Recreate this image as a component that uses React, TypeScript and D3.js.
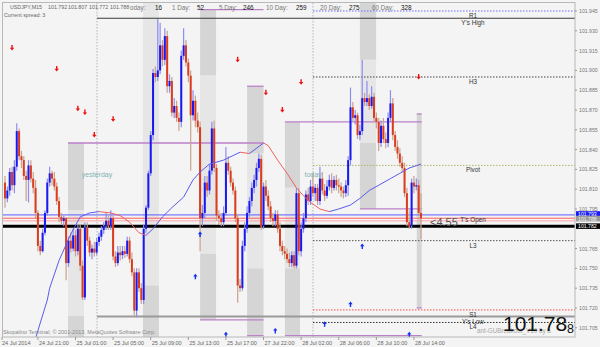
import React from "react";
import * as d3 from "d3";

// ---------- header / axis text ----------
const symbolName = "USDJPY,M15";
const headerOHLC = ["101.792", "101.807", "101.772", "101.788"];
const spreadText = "Current spread: 3";
const statLabels = ["oday:", "1 Day:", "5 Day:", "10 Day:", "20 Day:", "60 Day:"];
const statValues = ["16", "52", "246", "259", "275", "328"];
const timeLabels = [
  "24 Jul 2014", "24 Jul 21:00", "25 Jul 01:00", "25 Jul 05:00", "25 Jul 09:00", "25 Jul 13:00",
  "25 Jul 17:00", "27 Jul 22:00", "28 Jul 02:00", "28 Jul 06:00", "28 Jul 10:00", "28 Jul 14:00",
];
const timeLabelBars = [-1.3, 14, 30, 46, 62, 78, 94, 110, 126, 142, 158, 174];
const priceTicks = [
  101.945, 101.93, 101.915, 101.9, 101.885, 101.87, 101.855, 101.84, 101.825, 101.81,
  101.795, 101.765, 101.75, 101.735, 101.72, 101.705,
];

// ---------- candles (M15) ----------
const opens = [
  101.815,101.803,101.809,101.823,101.813,101.827,101.854,101.835,101.832,101.820,
  101.817,101.828,101.818,101.811,101.792,101.767,101.763,101.777,101.792,101.815,
  101.822,101.818,101.812,101.801,101.789,101.786,101.788,101.754,101.771,101.765,
  101.775,101.763,101.780,101.752,101.728,101.781,101.771,101.762,101.765,101.762,
  101.770,101.774,101.779,101.782,101.786,101.782,101.788,101.759,101.754,101.762,
  101.760,101.763,101.761,101.771,101.757,101.747,101.718,101.747,101.735,101.726,
  101.780,101.796,101.822,101.851,101.898,101.895,101.900,101.919,101.908,101.926,
  101.888,101.892,101.868,101.873,101.864,101.861,101.911,101.919,101.906,101.896,
  101.866,101.877,101.862,101.857,101.788,101.792,101.815,101.809,101.824,101.856,
  101.826,101.790,101.788,101.785,101.792,101.830,101.824,101.815,101.809,101.788,
  101.737,101.735,101.767,101.780,101.792,101.801,101.811,101.817,101.826,101.833,
  101.782,101.812,101.805,101.797,101.788,101.786,101.791,101.780,101.767,101.763,
  101.761,101.757,101.754,101.760,101.752,101.807,101.763,101.780,101.788,101.806,
  101.801,101.812,101.807,101.811,101.801,101.818,101.809,101.805,101.812,101.817,
  101.811,101.817,101.813,101.812,101.809,101.807,101.813,101.832,101.872,101.864,
  101.866,101.851,101.854,101.879,101.876,101.879,101.873,101.880,101.864,101.861,
  101.845,101.858,101.848,101.845,101.864,101.875,101.851,101.842,101.837,101.830,
  101.826,101.807,101.785,101.782,101.815,101.812,101.813,101.792,
];
const highs = [
  101.820,101.812,101.826,101.827,101.832,101.860,101.856,101.839,101.835,101.824,
  101.832,101.832,101.823,101.817,101.794,101.771,101.780,101.794,101.818,101.827,
  101.824,101.823,101.815,101.804,101.792,101.790,101.789,101.774,101.777,101.780,
  101.779,101.783,101.783,101.756,101.785,101.785,101.774,101.768,101.770,101.773,
  101.777,101.782,101.785,101.792,101.791,101.794,101.790,101.763,101.767,101.767,
  101.767,101.767,101.774,101.774,101.762,101.750,101.750,101.750,101.739,101.783,
  101.798,101.824,101.854,101.901,101.903,101.939,101.936,101.923,101.932,101.930,
  101.897,101.895,101.879,101.877,101.868,101.915,101.932,101.923,101.909,101.900,
  101.885,101.881,101.868,101.861,101.798,101.820,101.820,101.829,101.861,101.862,
  101.829,101.794,101.792,101.797,101.842,101.835,101.827,101.818,101.812,101.791,
  101.742,101.771,101.785,101.797,101.804,101.815,101.821,101.830,101.837,101.836,
  101.815,101.817,101.809,101.801,101.792,101.794,101.794,101.785,101.771,101.767,
  101.765,101.762,101.763,101.763,101.811,101.811,101.785,101.792,101.809,101.811,
  101.817,101.822,101.814,101.814,101.827,101.823,101.814,101.817,101.821,101.822,
  101.820,101.821,101.818,101.815,101.812,101.817,101.835,101.887,101.876,101.870,
  101.868,101.859,101.908,101.883,101.892,101.882,101.888,101.883,101.868,101.864,
  101.862,101.864,101.853,101.868,101.885,101.879,101.854,101.847,101.841,101.835,
  101.830,101.811,101.794,101.818,101.820,101.818,101.817,101.807,
];
const lows = [
  101.796,101.800,101.805,101.809,101.807,101.824,101.832,101.826,101.817,101.801,
  101.800,101.815,101.807,101.788,101.763,101.760,101.762,101.775,101.790,101.812,
  101.813,101.809,101.798,101.785,101.783,101.782,101.741,101.751,101.762,101.763,
  101.759,101.760,101.748,101.726,101.726,101.767,101.759,101.757,101.759,101.760,
  101.767,101.771,101.776,101.779,101.779,101.779,101.756,101.751,101.752,101.756,
  101.757,101.758,101.759,101.754,101.744,101.713,101.713,101.732,101.723,101.723,
  101.777,101.794,101.820,101.847,101.891,101.892,101.897,101.903,101.904,101.883,
  101.883,101.865,101.864,101.861,101.854,101.857,101.908,101.903,101.891,101.824,
  101.862,101.857,101.853,101.763,101.782,101.788,101.804,101.806,101.821,101.823,
  101.786,101.783,101.782,101.782,101.790,101.821,101.812,101.806,101.785,101.724,
  101.732,101.733,101.763,101.777,101.789,101.797,101.807,101.812,101.823,101.779,
  101.780,101.801,101.794,101.785,101.782,101.782,101.777,101.763,101.760,101.757,
  101.754,101.751,101.751,101.750,101.750,101.760,101.759,101.777,101.785,101.798,
  101.798,101.804,101.801,101.798,101.798,101.806,101.801,101.803,101.809,101.807,
  101.809,101.809,101.807,101.804,101.803,101.804,101.805,101.828,101.861,101.859,
  101.848,101.847,101.851,101.873,101.873,101.870,101.871,101.861,101.856,101.839,
  101.842,101.845,101.841,101.842,101.861,101.847,101.839,101.833,101.827,101.823,
  101.804,101.782,101.780,101.780,101.807,101.809,101.790,101.772,
];
const closes = [
  101.803,101.809,101.823,101.813,101.827,101.854,101.835,101.832,101.820,101.817,
  101.828,101.818,101.811,101.792,101.767,101.763,101.777,101.792,101.815,101.822,
  101.818,101.812,101.801,101.789,101.786,101.788,101.754,101.771,101.765,101.775,
  101.763,101.780,101.752,101.728,101.781,101.771,101.762,101.765,101.762,101.770,
  101.774,101.779,101.782,101.786,101.782,101.788,101.759,101.754,101.762,101.760,
  101.763,101.761,101.771,101.757,101.747,101.718,101.747,101.735,101.726,101.780,
  101.796,101.822,101.851,101.898,101.895,101.900,101.919,101.908,101.926,101.888,
  101.892,101.868,101.873,101.864,101.861,101.911,101.919,101.906,101.896,101.866,
  101.877,101.862,101.857,101.788,101.792,101.815,101.809,101.824,101.856,101.826,
  101.790,101.788,101.785,101.792,101.830,101.824,101.815,101.809,101.788,101.737,
  101.735,101.767,101.780,101.792,101.801,101.811,101.817,101.826,101.833,101.782,
  101.812,101.805,101.797,101.788,101.786,101.791,101.780,101.767,101.763,101.761,
  101.757,101.754,101.760,101.752,101.807,101.763,101.780,101.788,101.806,101.801,
  101.812,101.807,101.811,101.801,101.818,101.809,101.805,101.812,101.817,101.811,
  101.817,101.813,101.812,101.809,101.807,101.813,101.832,101.872,101.864,101.866,
  101.851,101.854,101.879,101.876,101.879,101.873,101.880,101.864,101.861,101.845,
  101.858,101.848,101.845,101.864,101.875,101.851,101.842,101.837,101.830,101.826,
  101.807,101.785,101.782,101.815,101.812,101.813,101.792,101.788,
];

// ---------- moving average (bar index, value) ----------
const maBars = [13,18,19,23,28,32,36,40,45,49,53,57,60,63,67,71,76,80,83,87,93,100,104,110,112,116,120,124,127,130,134,138,142,147,151,155,160,164,168,172,177];
const maValues = [
  101.697,101.726,101.735,101.756,101.776,101.789,101.792,101.793,101.792,101.790,
  101.785,101.777,101.775,101.780,101.789,101.796,101.804,101.817,101.823,101.829,
  101.832,101.838,101.837,101.845,101.843,101.832,101.822,101.811,101.805,101.800,
  101.795,101.793,101.795,101.798,101.803,101.809,101.814,101.818,101.822,101.826,101.829,
];

// ---------- signal arrows ----------
const sellArrowBars = [3, 22, 31, 34, 38, 46, 99, 111, 118, 126, 176];
const sellArrowPrices = [101.917, 101.901, 101.871, 101.868, 101.851, 101.863, 101.908, 101.883, 101.870, 101.891, 101.895];
const buyArrowBars = [81, 83, 94, 115, 136, 147, 152, 172];
const buyArrowPrices = [101.744, 101.776, 101.700, 101.703, 101.708, 101.723, 101.767, 101.700];

// ---------- session bands (bar start, bar end, segments top/bottom/shade) ----------
const bandStarts = [26.8, 58.7, 83, 103, 119.1, 151, 175.2];
const bandEnds = [33.6, 65.5, 89.8, 110, 125.5, 157.9, 177.3];
const bandSegments: [number, number, string][][] = [
  [[101.845, 101.794, "d"], [101.794, 101.714, "l"], [101.714, 101.698, "d"]],
  [[101.951, 101.737, "l"], [101.737, 101.698, "d"]],
  [[101.946, 101.896, "d"], [101.896, 101.761, "l"], [101.761, 101.711, "d"]],
  [[101.888, 101.837, "d"], [101.837, 101.750, "l"], [101.750, 101.699, "d"]],
  [[101.861, 101.811, "d"], [101.811, 101.750, "l"], [101.750, 101.699, "d"]],
  [[101.951, 101.908, "d"], [101.908, 101.845, "l"], [101.845, 101.795, "d"]],
  [[101.867, 101.720, "d"]],
];
// purple session range lines: price, from bar, to bar
const rangeLinePrices = [101.946, 101.711, 101.888, 101.845, 101.861, 101.795, 101.699, 101.699, 101.867, 101.720];
const rangeLineFrom = [83, 83, 103, 26.8, 119.1, 151, 103, 119.1, 175.2, 175.2];
const rangeLineTo = [110, 110, 110, 110, 177.3, 177.3, 110, 177.3, 177.3, 177.3];

// ---------- day separators ----------
const separatorBars = [39.15, 131.05];
const separatorNames = ["yesterday", "today"];

// ---------- pivot / level lines ----------
const levelNames = ["R1", "Y's High", "H3", "Pivot", "T's Open", "L3", "S1", "Y's Low", "L4"];
const levelPrices = [101.945, 101.9395, 101.895, 101.828, 101.7905, 101.771, 101.7185, 101.7135, 101.709];
const levelFromBar = [131.05, 39.15, 131.05, 131.05, -2, 131.05, 131.05, 39.15, 131.05];
const bidPrice = 101.788;
const prevClosePrice = 101.786;
const markPrice = 101.782;
const markerPrices = [101.7912, 101.7877, 101.782];
const markerTexts = ["101.793", "101.788", "101.782"];
const rangeText = "<4.55";
const bigPrice = "101.78";
const bigPriceLast = "8";

const FONT = "'Liberation Sans', Arial, sans-serif";

export default function App() {
  const L = 3, R = 575, T = 3, B = 337;
  const x = d3.scaleLinear().domain([0, 177]).range([5, 421]);
  const y = d3.scaleLinear().domain([101.698, 101.9503]).range([337, 4]);

  const levelStyles = [
    { stroke: "#6b6bff", dash: "1.5,1.5", w: 1 },
    { stroke: "#3a3a3a", dash: undefined, w: 1 },
    { stroke: "#444", dash: "1.5,1.5", w: 1 },
    { stroke: "#b5b56a", dash: "1.5,1.5", w: 1 },
    { stroke: "#5a5aff", dash: undefined, w: 1 },
    { stroke: "#555", dash: "1.5,1.5", w: 1 },
    { stroke: "#ff4a4a", dash: "1.5,1.5", w: 1 },
    { stroke: "#9a9a9a", dash: undefined, w: 2 },
    { stroke: "#333", dash: "1.5,1.5", w: 1 },
  ];

  const arrowDown = (cx: number, cy: number) =>
    `M${cx - 0.7},${cy - 3}h1.4v2.8h1.5l-2.2,2.7l-2.2,-2.7h1.5z`;
  const arrowUp = (cx: number, cy: number) =>
    `M${cx - 0.7},${cy + 3}h1.4v-2.8h1.5l-2.2,-2.7l-2.2,2.7h1.5z`;

  const statLabelX = [130, 172, 219, 266, 320, 372];
  const statValueX = [155, 197, 243, 296, 349, 401];
  const ohlcX = [48, 68, 89, 110];

  return (
    <svg
      width={600}
      height={347}
      style={{ position: "absolute", left: 0, top: 0, display: "block" }}
      fontFamily={FONT}
    >
      <defs>
        <clipPath id="plot">
          <rect x={L} y={T} width={R - L} height={B - T} />
        </clipPath>
      </defs>
      <rect x={0} y={0} width={600} height={347} fill="#f4f4f4" />

      <g clipPath="url(#plot)">
        {/* session bands */}
        {bandSegments.map((segs, bi) =>
          segs.map((s, si) => (
            <rect
              key={`b${bi}-${si}`}
              x={x(bandStarts[bi])}
              width={x(bandEnds[bi]) - x(bandStarts[bi])}
              y={y(s[0])}
              height={y(s[1]) - y(s[0])}
              fill={s[2] === "d" ? "#d5d5d5" : "#e6e6e6"}
            />
          ))
        )}

        {/* day separators */}
        {separatorBars.map((b, i) => (
          <line key={`sep${i}`} x1={x(b)} x2={x(b)} y1={T} y2={B} stroke="#b4b4b4" strokeDasharray="1.5,1.5" />
        ))}

        {/* level lines */}
        {levelPrices.map((p, i) => (
          <line
            key={`lv${i}`}
            x1={x(levelFromBar[i])}
            x2={R}
            y1={y(p)}
            y2={y(p)}
            stroke={levelStyles[i].stroke}
            strokeWidth={levelStyles[i].w}
            strokeDasharray={levelStyles[i].dash}
          />
        ))}
        <line x1={L} x2={R} y1={y(bidPrice)} y2={y(bidPrice)} stroke="#ff5a5a" strokeWidth={1} />
        <line x1={L} x2={R} y1={y(prevClosePrice)} y2={y(prevClosePrice)} stroke="#ffa0a0" strokeWidth={1} />
        <line x1={L} x2={R} y1={y(markPrice)} y2={y(markPrice)} stroke="#000" strokeWidth={3} />

        {/* purple range lines */}
        {rangeLinePrices.map((p, i) => (
          <line
            key={`pr${i}`}
            x1={x(rangeLineFrom[i])}
            x2={x(rangeLineTo[i])}
            y1={y(p)}
            y2={y(p)}
            stroke="#bb80c8"
            strokeWidth={1.3}
          />
        ))}

        {/* candles */}
        {opens.map((o, i) => {
          const c = closes[i];
          const bull = c >= o;
          const cx = x(i);
          const top = y(Math.max(o, c));
          const bot = y(Math.min(o, c));
          return (
            <g key={`c${i}`}>
              <line
                x1={cx}
                x2={cx}
                y1={y(highs[i])}
                y2={y(lows[i])}
                stroke={bull ? "#8c8cf2" : "#c9a28e"}
                strokeWidth={1.2}
              />
              <rect
                x={cx - 1}
                width={2}
                y={top}
                height={Math.max(1, bot - top)}
                fill={bull ? "#1818f0" : "#dc3c1e"}
              />
            </g>
          );
        })}

        {/* moving average coloured by direction */}
        {maBars.slice(1).map((b, k) => {
          const v0 = maValues[k];
          const v1 = maValues[k + 1];
          return (
            <line
              key={`ma${k}`}
              x1={x(maBars[k])}
              x2={x(b)}
              y1={y(v0)}
              y2={y(v1)}
              stroke={v1 >= v0 ? "#5a5aee" : "#f06060"}
              strokeWidth={1}
            />
          );
        })}

        {/* arrows */}
        {sellArrowBars.map((b, i) => (
          <path key={`sa${i}`} d={arrowDown(x(b), y(sellArrowPrices[i]))} fill="#f01010" />
        ))}
        {buyArrowBars.map((b, i) => (
          <path key={`ba${i}`} d={arrowUp(x(b), y(buyArrowPrices[i]))} fill="#1030f0" />
        ))}

        {/* day labels */}
        {separatorBars.map((b, i) => (
          <text key={`sl${i}`} x={x(b)} y={177} fontSize={7} fill="#7fb3b3" textAnchor="middle">
            {separatorNames[i]}
          </text>
        ))}

        {/* level labels */}
        {levelPrices.map((p, i) => (
          <text key={`ll${i}`} x={473} y={y(p) + 7} fontSize={6.3} fill="#333" textAnchor="middle">
            {levelNames[i]}
          </text>
        ))}

        <text x={430} y={226} fontSize={11} fill="#555">{rangeText}</text>

        <text x={3} y={334} fontSize={5.5} fill="#888">
          Skopalino Terminal, © 2001-2013, MetaQuotes Software Corp.
        </text>
        <text x={477} y={333} fontSize={6.3} fill="#a8a8a8">ant-GUBreakout_V10 by a</text>
        <text x={503} y={331} fontSize={21} fill="#111">{bigPrice}</text>
        <text x={567} y={333} fontSize={12.5} fill="#111">{bigPriceLast}</text>
      </g>

      {/* frame */}
      <rect x={2.5} y={2.5} width={R - 2.5} height={B - 2.5} fill="none" stroke="#b8b8b8" />

      {/* price axis */}
      {priceTicks.map((p, i) => (
        <g key={`pt${i}`}>
          <line x1={R} x2={R + 2} y1={y(p)} y2={y(p)} stroke="#999" />
          <text x={579} y={y(p) + 2} fontSize={5.2} fill="#777">
            {p.toFixed(3)}
          </text>
        </g>
      ))}
      {markerPrices.map((p, i) => {
        const fills = ["#1a1af5", "#9a9a9a", "#050505"];
        const tf = ["#fff", "#eee", "#fff"];
        return (
          <g key={`mk${i}`}>
            <rect x={576} y={y(p) - 2.8} width={24} height={5.6} fill={fills[i]} />
            <text x={578} y={y(p) + 2} fontSize={5.2} fill={tf[i]}>
              {markerTexts[i]}
            </text>
          </g>
        );
      })}

      {/* time axis */}
      {timeLabels.map((t, i) => {
        const tx = i === 0 ? 2 : x(timeLabelBars[i]);
        return (
          <g key={`tl${i}`}>
            <line x1={tx} x2={tx} y1={B} y2={B + 3} stroke="#999" />
            <text x={tx + (i === 0 ? 0 : 1)} y={345} fontSize={5.5} fill="#666">
              {t}
            </text>
          </g>
        );
      })}

      {/* header */}
      <text x={10} y={9} fontSize={5.3} fill="#666">{symbolName}</text>
      {headerOHLC.map((v, i) => (
        <text key={`h${i}`} x={ohlcX[i]} y={9} fontSize={5.3} fill="#666">{v}</text>
      ))}
      <text x={4} y={16.5} fontSize={5.3} fill="#666">{spreadText}</text>
      {statLabels.map((s, i) => (
        <g key={`st${i}`}>
          <text x={statLabelX[i]} y={10} fontSize={6.3} fill="#777">{s}</text>
          <text x={statValueX[i]} y={10} fontSize={6.3} fill="#111">{statValues[i]}</text>
        </g>
      ))}
    </svg>
  );
}
